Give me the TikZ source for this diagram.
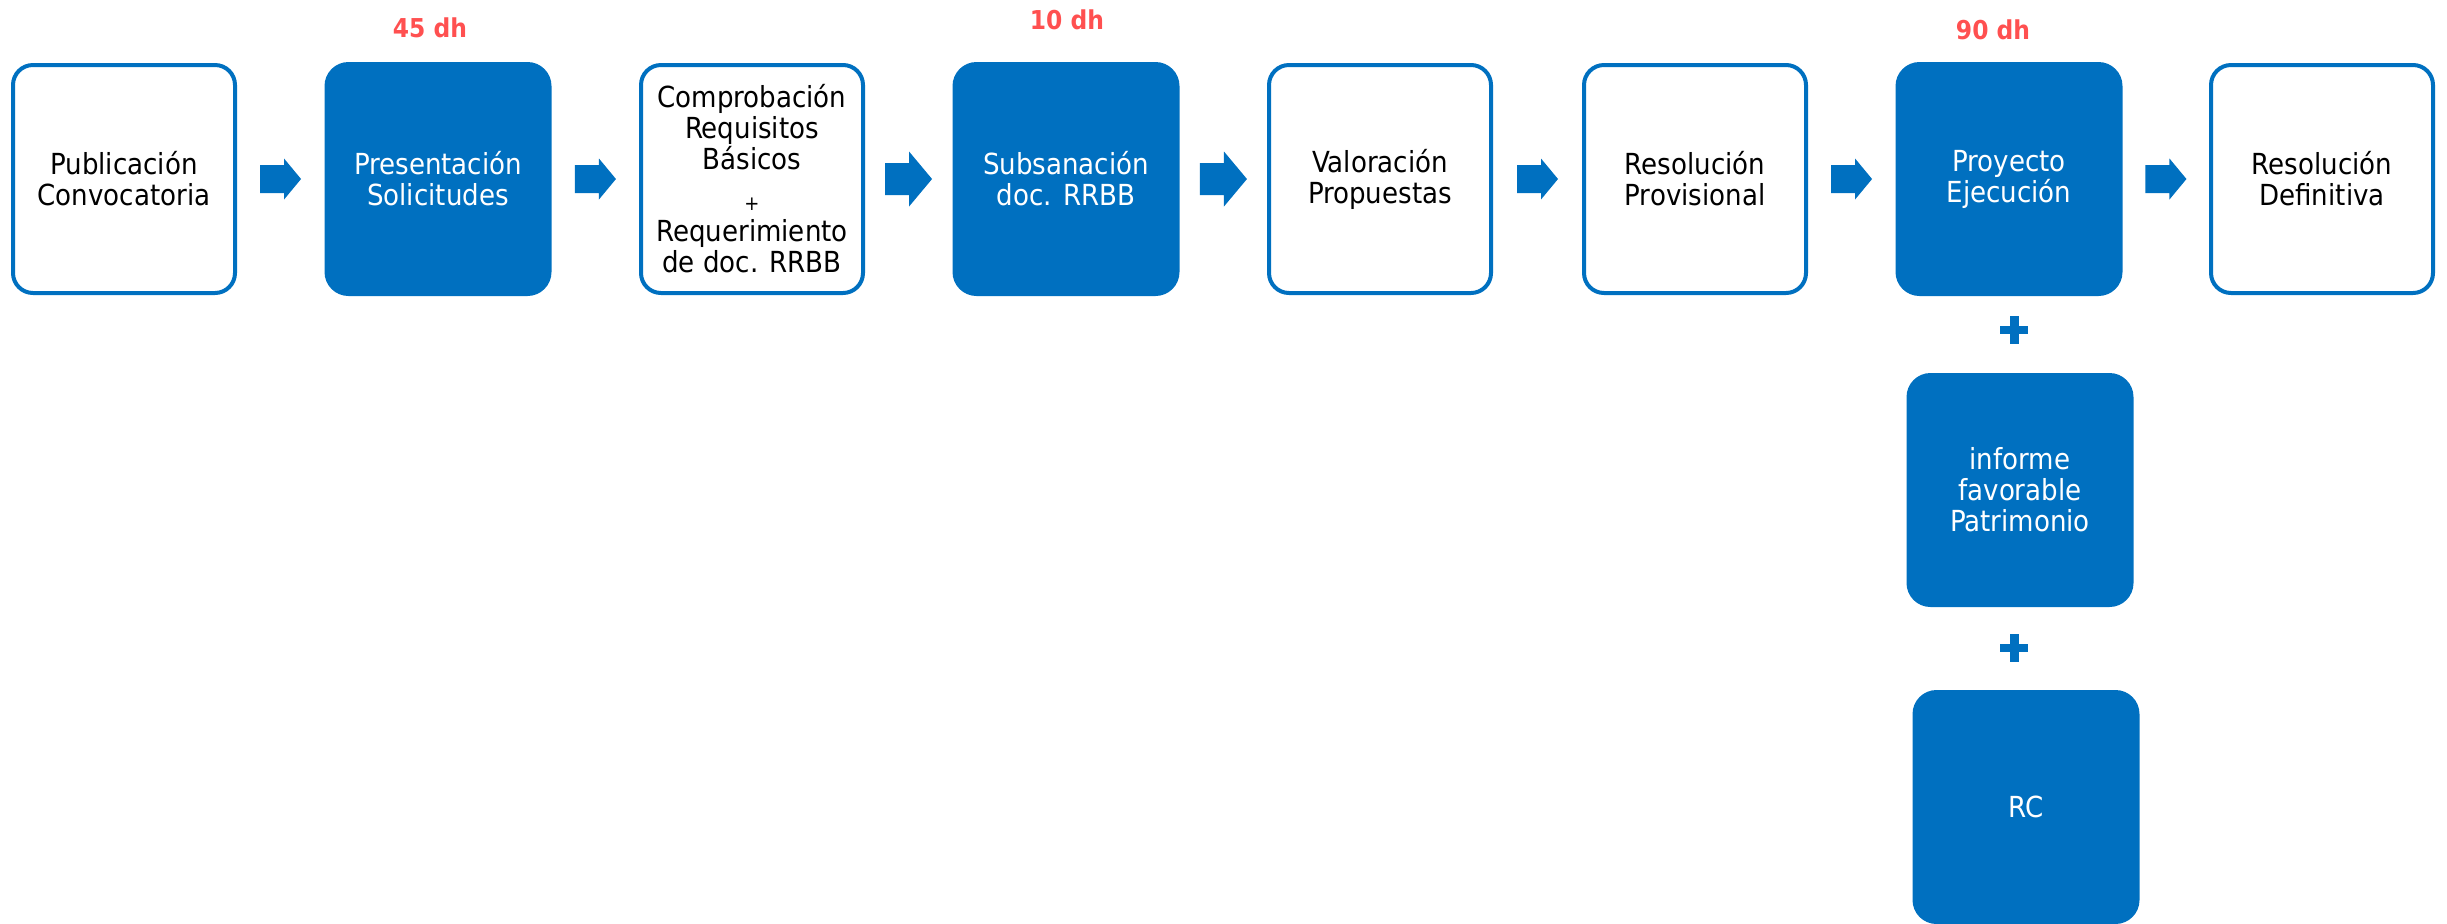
\documentclass[tikz,border=0pt]{standalone}
\usepackage{fontspec}
\setmainfont{DejaVu Sans Condensed}
\usetikzlibrary{calc}
\definecolor{mblue}{HTML}{0070C0}
\definecolor{mred}{HTML}{FF5050}
% block arrow between two named nodes: from, to, length, body width, head width, head length (px)
\newcommand{\blockarr}[6]{%
  \fill[mblue] let \p1=($(#1.east)!0.5!(#2.west)$) in
    ($(\p1)+({-#3/2},{-#4/2})$) -- ++({#3-#6},0) -- ++(0,{-(#5-#4)/2})
    -- ($(\p1)+({#3/2},0)$)
    -- ($(\p1)+({#3/2-#6},{#5/2})$) -- ++(0,{-(#5-#4)/2})
    -- ($(\p1)+({-#3/2},{#4/2})$) -- cycle;}
\newcommand{\plussign}[1]{%
  \fill[mblue] ($(#1)+(-14,-4)$) rectangle ($(#1)+(14,4)$);
  \fill[mblue] ($(#1)+(-4.5,-14)$) rectangle ($(#1)+(4.5,14)$);}
\begin{document}
\begin{tikzpicture}[x=0.5pt,y=-0.5pt,
  txt/.style={align=center,font=\fontsize{14.5pt}{15.5pt}\selectfont,inner sep=2pt},
  outbox/.style={txt,draw=mblue,line width=2pt,rounded corners=10pt,fill=white,
    minimum width=111pt,minimum height=114pt,text=black},
  fillbox/.style={txt,fill=mblue,rounded corners=12pt,
    minimum width=113.5pt,minimum height=117pt,text=white},
  lbl/.style={text=mred,font=\bfseries\fontsize{13pt}{15pt}\selectfont,inner sep=0pt}]
\useasboundingbox (0,0) rectangle (2447,923);

\node[outbox]  (b1) at (124,179)  {Publicación\\Convocatoria};
\node[fillbox] (b2) at (438,179)  {Presentación\\Solicitudes};
\node[outbox]  (b3) at (752,179)  {Comprobación\\Requisitos\\Básicos\\[5pt]{\fontsize{10pt}{12pt}\selectfont +}\\Requerimiento\\de doc. RRBB};
\node[fillbox] (b4) at (1066,179) {Subsanación\\doc. RRBB};
\node[outbox]  (b5) at (1380,179) {Valoración\\Propuestas};
\node[outbox]  (b6) at (1695,179) {Resolución\\Provisional};
\node[fillbox] (b7) at (2009,179) {Proyecto\\Ejecución};
\node[outbox]  (b8) at (2322,179) {Resolución\\Definitiva};

\node[fillbox,line width=0pt] (b9)  at (2020,490) {informe\\favorable\\Patrimonio};
\node[fillbox] (b10) at (2026,807) {RC};

\node[lbl] (l45) at (430,28) {45 dh};
\node[lbl] (l10) at (1067,20) {10 dh};
\node[lbl] (l90) at (1993,30) {90 dh};

\blockarr{b1}{b2}{41}{28}{41}{17}
\blockarr{b2}{b3}{41}{28}{41}{17}
\blockarr{b3}{b4}{47}{32}{55}{23}
\blockarr{b4}{b5}{47}{32}{55}{23}
\blockarr{b5}{b6}{41}{28}{41}{17}
\blockarr{b6}{b7}{41}{28}{41}{17}
\blockarr{b7}{b8}{41}{28}{41}{17}

\coordinate (p1) at (2014,330);
\coordinate (p2) at (2014,648);
\plussign{p1}
\plussign{p2}
\end{tikzpicture}
\end{document}
